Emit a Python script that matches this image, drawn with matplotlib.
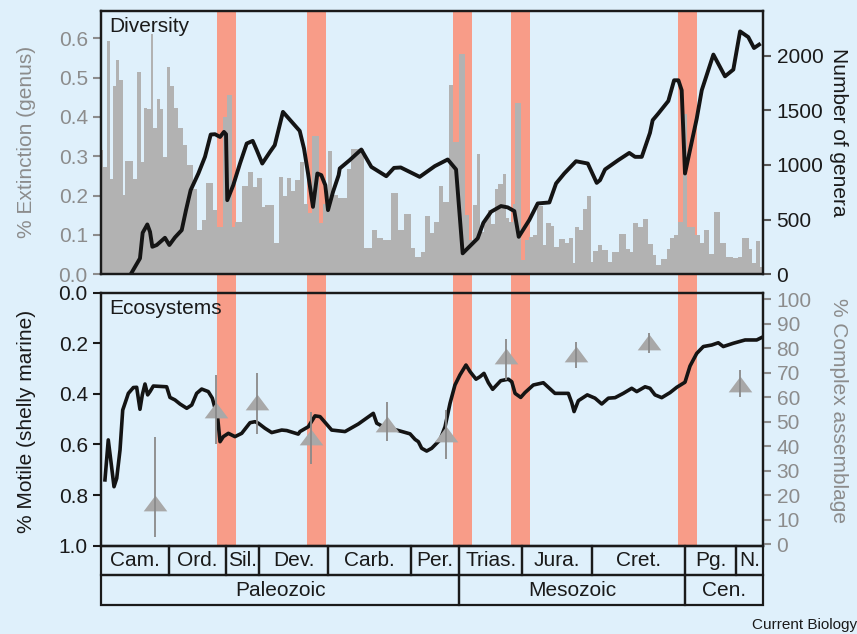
import matplotlib.pyplot as plt
from matplotlib.patches import Rectangle

plt.rcParams['font.family'] = ['Liberation Sans', 'DejaVu Sans']

# geological time scale (Ma)
period_names = ['Cam.', 'Ord.', 'Sil.', 'Dev.', 'Carb.', 'Per.', 'Trias.', 'Jura.', 'Cret.', 'Pg.', 'N.']
period_bounds = [541, 485.5, 439, 412, 355.5, 288, 248.5, 197, 140, 64, 22.3, 0]
era_names = ['Paleozoic', 'Mesozoic', 'Cen.']
era_bounds = [541, 248.5, 64, 0]

# big five mass extinctions (shaded bands)
mass_ext_start = [446.0, 372.5, 253.5, 206.0, 69.7]
mass_ext_end = [431.0, 357.2, 238.2, 190.6, 54.4]

# genus extinction rate per interval (interval starts, Ma; last one ends at 0)
ext_start = [541.0, 539.2, 536.4, 533.7, 531.5, 528.8, 526.1, 523.3, 521.4, 514.6,
             511.4, 508.6, 505.9, 503.2, 500.4, 498.3, 495.0, 492.8, 490.6, 487.4,
             484.7, 481.4, 477.9, 474.3, 470.5, 466.1, 462.9, 458.8, 455.3, 449.3,
             446.0, 441.1, 438.4, 434.3, 431.6, 426.1, 420.7, 416.6, 413.8, 409.8,
             407.1, 399.7, 395.9, 392.4, 388.9, 385.6, 382.3, 378.7, 375.2, 371.9,
             368.7, 363.2, 359.7, 355.6, 352.1, 347.4, 340.1, 336.6, 326.2, 319.7,
             315.3, 310.7, 303.9, 298.4, 293.5, 288.0, 284.3, 279.9, 276.6, 272.5,
             269.0, 265.2, 261.4, 256.5, 253.2, 248.8, 243.4, 240.2, 237.4, 234.1,
             231.2, 228.4, 225.1, 222.4, 219.2, 216.5, 212.9, 210.2, 207.5, 204.7,
             202.6, 197.9, 194.4, 191.6, 188.4, 184.9, 180.2, 177.5, 173.4, 170.7,
             167.1, 161.7, 158.5, 155.2, 153.6, 150.8, 147.5, 144.3, 141.0, 138.9,
             135.3, 132.0, 126.6, 123.4, 117.6, 112.2, 108.9, 106.7, 102.1, 98.0,
             93.9, 89.9, 87.7, 83.6, 78.9, 76.2, 72.9, 69.9, 65.8, 62.1,
             55.8, 51.7, 48.4, 44.1, 40.3, 35.4, 30.5, 24.5, 20.4, 17.2,
             11.7, 9.0, 6.2, 2.7]
ext_rate = [0.316, 0.274, 0.594, 0.242, 0.479, 0.545, 0.494, 0.202, 0.288, 0.242,
            0.513, 0.286, 0.424, 0.419, 0.610, 0.371, 0.445, 0.419, 0.299, 0.526,
            0.479, 0.422, 0.371, 0.329, 0.278, 0.216, 0.113, 0.138, 0.231, 0.163,
            0.121, 0.399, 0.456, 0.121, 0.134, 0.225, 0.261, 0.223, 0.244, 0.170,
            0.176, 0.079, 0.248, 0.200, 0.246, 0.212, 0.240, 0.285, 0.179, 0.155,
            0.352, 0.131, 0.180, 0.314, 0.202, 0.193, 0.267, 0.318, 0.066, 0.112,
            0.092, 0.087, 0.206, 0.113, 0.153, 0.066, 0.045, 0.056, 0.148, 0.104,
            0.132, 0.225, 0.185, 0.481, 0.337, 0.559, 0.151, 0.087, 0.176, 0.305,
            0.108, 0.138, 0.163, 0.127, 0.217, 0.230, 0.254, 0.142, 0.134, 0.180,
            0.435, 0.036, 0.087, 0.096, 0.100, 0.174, 0.075, 0.130, 0.123, 0.069,
            0.089, 0.079, 0.092, 0.028, 0.121, 0.113, 0.165, 0.200, 0.032, 0.060,
            0.074, 0.062, 0.032, 0.058, 0.103, 0.064, 0.058, 0.130, 0.121, 0.140,
            0.077, 0.049, 0.024, 0.038, 0.064, 0.093, 0.100, 0.134, 0.408, 0.120,
            0.100, 0.079, 0.113, 0.052, 0.159, 0.079, 0.045, 0.041, 0.045, 0.092,
            0.064, 0.030, 0.085, 0.019]

# number of genera (diversity curve)
div_age = [516.8, 509.2, 507.0, 503.2, 501.0, 499.1, 495.5, 488.8, 485.2, 480.6,
           475.1, 471.6, 467.8, 461.5, 456.1, 451.4, 447.9, 443.8, 440.6, 438.9,
           437.9, 433.0, 427.5, 422.0, 417.1, 413.8, 409.3, 403.0, 399.1, 392.4,
           378.7, 375.2, 371.9, 367.9, 364.3, 361.1, 357.8, 355.6, 351.5, 346.9,
           346.0, 337.9, 328.4, 320.2, 308.0, 301.7, 296.2, 280.7, 268.4, 257.8,
           251.0, 245.6, 233.3, 228.7, 222.4, 214.3, 208.8, 203.4, 199.8, 191.2,
           184.3, 174.8, 169.3, 162.6, 153.0, 143.4, 136.1, 133.4, 129.3, 118.5,
           109.5, 104.8, 99.3, 92.6, 90.4, 85.8, 77.6, 72.9, 69.4, 66.7,
           64.0, 54.4, 50.3, 40.8, 31.3, 24.5, 19.0, 12.3, 7.6, 3.5]
div_genera = [0, 146, 380, 456, 389, 252, 268, 334, 268, 338,
              404, 587, 770, 922, 1074, 1278, 1281, 1256, 1302, 1281,
              678, 815, 1013, 1196, 1220, 1135, 1013, 1119, 1181, 1485,
              1311, 1150, 922, 617, 922, 907, 815, 587, 754, 907,
              968, 1044, 1141, 982, 897, 973, 977, 891, 989, 1050,
              959, 192, 329, 471, 572, 624, 612, 578, 343, 496,
              648, 657, 831, 922, 1034, 1013, 836, 861, 959, 1044,
              1110, 1074, 1074, 1293, 1409, 1470, 1585, 1774, 1774, 1683,
              922, 1424, 1683, 2009, 1810, 1872, 2221, 2169, 2069, 2100]

# proportion of motile genera (shelly marine)
mot_age = [537.8, 535.1, 532.9, 530.4, 528.2, 525.5, 523.3, 520.0, 518.7, 514.6,
           511.9, 509.2, 507.3, 505.1, 502.9, 501.0, 498.3, 487.4, 484.7, 480.6,
           476.5, 471.0, 466.9, 462.9, 458.8, 453.4, 450.1, 447.9, 445.7, 443.8,
           441.1, 437.0, 431.6, 426.1, 419.3, 415.2, 412.5, 407.1, 401.6, 393.4,
           389.3, 379.9, 378.5, 371.7, 366.2, 362.1, 352.6, 341.7, 330.8, 318.6,
           315.8, 310.4, 299.5, 288.6, 284.5, 281.8, 279.1, 275.0, 270.9, 266.8,
           264.1, 260.0, 255.9, 251.9, 247.8, 242.9, 239.6, 234.7, 231.4, 228.2,
           224.6, 221.1, 217.8, 214.5, 208.3, 205.5, 202.8, 198.2, 194.7, 187.9,
           179.7, 170.2, 159.3, 156.5, 154.6, 151.1, 143.8, 137.5, 132.0, 126.6,
           121.1, 114.4, 107.5, 103.4, 96.6, 92.6, 88.5, 83.0, 76.2, 70.7,
           64.0, 59.9, 54.4, 49.0, 42.2, 36.8, 32.7, 24.5, 14.9, 5.4, 0.0]
mot_frac = [0.740, 0.582, 0.668, 0.767, 0.734, 0.622, 0.464, 0.417, 0.398, 0.375,
            0.374, 0.461, 0.404, 0.361, 0.404, 0.391, 0.369, 0.372, 0.414, 0.424,
            0.440, 0.457, 0.444, 0.398, 0.381, 0.391, 0.417, 0.457, 0.496, 0.589,
            0.569, 0.556, 0.569, 0.556, 0.514, 0.510, 0.516, 0.536, 0.553, 0.543,
            0.545, 0.559, 0.549, 0.530, 0.487, 0.490, 0.543, 0.549, 0.519, 0.477,
            0.516, 0.530, 0.543, 0.558, 0.580, 0.589, 0.615, 0.626, 0.615, 0.595,
            0.582, 0.530, 0.437, 0.365, 0.325, 0.286, 0.312, 0.342, 0.332, 0.319,
            0.356, 0.382, 0.365, 0.348, 0.342, 0.352, 0.398, 0.414, 0.395, 0.365,
            0.356, 0.398, 0.398, 0.435, 0.470, 0.427, 0.404, 0.417, 0.440, 0.417,
            0.415, 0.398, 0.378, 0.391, 0.372, 0.378, 0.404, 0.415, 0.395, 0.374,
            0.354, 0.290, 0.240, 0.213, 0.207, 0.198, 0.213, 0.200, 0.187, 0.187, 0.174]

# complex assemblages (%), with ranges
cx_age = [496.9, 447.3, 413.4, 369.2, 307.2, 259.4, 210.4, 153.0, 93.4, 19.0]
cx_pct = [17, 55, 58, 44, 49, 45, 77, 77.5, 82.7, 65.6]
cx_low = [3, 41, 45, 33, 42, 35, 67, 72, 78, 60]
cx_high = [44, 69, 70, 54, 58, 55, 84, 82.5, 86.4, 71]

BG = '#dff0fb'
RED = '#f89c88'
BAR = '#b2b2b2'
GREY_TXT = '#8c8c8c'
INK = '#1a1a1a'
FS = 15

fig = plt.figure(figsize=(8.57, 6.34), dpi=100, facecolor=BG)

L, W = 0.1179, 0.7728

# background axis carrying the extinction bands through both panels
bg = fig.add_axes([L, 0.1393, W, 0.8438])
bg.set_xlim(541, 0)
bg.set_ylim(0, 1)
bg.axis('off')
for s, e in zip(mass_ext_start, mass_ext_end):
    bg.axvspan(s, e, color=RED, lw=0)

# ---- top panel: extinction + diversity
ax1 = fig.add_axes([L, 0.5673, W, 0.4158])
ax1.patch.set_alpha(0)
widths = [(ext_start[i + 1] if i + 1 < len(ext_start) else 0) - ext_start[i]
          for i in range(len(ext_start))]
ax1.bar(ext_start, ext_rate, width=widths, align='edge', color=BAR, lw=0)
ax1.set_xlim(541, 0)
ax1.set_ylim(0, 0.67)
ax1.set_yticks([0, 0.1, 0.2, 0.3, 0.4, 0.5, 0.6])
ax1.set_yticklabels(['0.0', '0.1', '0.2', '0.3', '0.4', '0.5', '0.6'])
ax1.set_xticks([])
ax1.tick_params(axis='y', direction='out', length=6, width=1.5, colors=GREY_TXT, labelsize=FS)
ax1.text(0.012, 0.975, 'Diversity', transform=ax1.transAxes, fontsize=FS, va='top', color=INK)

ax1r = ax1.twinx()
ax1r.plot(div_age, div_genera, color='#141414', lw=2.8, solid_joinstyle='round')
ax1r.set_ylim(0, 2410)
ax1r.set_yticks([0, 500, 1000, 1500, 2000])
ax1r.tick_params(axis='y', direction='out', length=6, width=1.5, colors=INK, labelsize=FS)
ax1r.tick_params(axis='y', color='#555555')
ax1r.set_xlim(541, 0)

# ---- bottom panel: motile fraction + complex assemblages
ax2 = fig.add_axes([L, 0.1393, W, 0.3991])
ax2.patch.set_alpha(0)
ax2.plot(mot_age, mot_frac, color='#141414', lw=2.6, solid_joinstyle='round')
ax2.set_xlim(541, 0)
ax2.set_ylim(1.0, 0.0)
ax2.set_yticks([0, 0.2, 0.4, 0.6, 0.8, 1.0])
ax2.set_yticklabels(['0.0', '0.2', '0.4', '0.6', '0.8', '1.0'])
ax2.set_xticks([])
ax2.tick_params(axis='y', direction='out', length=6, width=1.5, colors=INK, labelsize=FS)
ax2.text(0.012, 0.975, 'Ecosystems', transform=ax2.transAxes, fontsize=FS, va='top', color=INK)

ax2r = ax2.twinx()
tri = [(-1.5, -1), (1.5, -1), (0, 1), (-1.5, -1)]
ax2r.scatter(cx_age, cx_pct, marker=tri, s=17 ** 2, color='#a8a8a8', lw=0, zorder=3)
ax2r.vlines(cx_age, cx_low, cx_high, color='#8a8a8a', lw=1.3, zorder=4)
ax2r.set_ylim(-0.5, 102.7)
ax2r.set_yticks(range(0, 101, 10))
ax2r.tick_params(axis='y', direction='out', length=6, width=1.5, colors=GREY_TXT, labelsize=FS)
ax2r.set_xlim(541, 0)

for a in (ax1, ax1r, ax2, ax2r):
    for sp in a.spines.values():
        sp.set_linewidth(1.6)
        sp.set_color(INK)

# axis titles
fig.text(0.031, 0.776, '% Extinction (genus)', rotation=90, ha='center', va='center',
         fontsize=FS, color=GREY_TXT)
fig.text(0.978, 0.792, 'Number of genera', rotation=270, ha='center', va='center',
         fontsize=FS, color=INK)
fig.text(0.031, 0.335, '% Motile (shelly marine)', rotation=90, ha='center', va='center',
         fontsize=FS, color=INK)
fig.text(0.978, 0.353, '% Complex assemblage', rotation=270, ha='center', va='center',
         fontsize=FS, color=GREY_TXT)

# ---- time scale boxes
tb = fig.add_axes([L, 0.0453, W, 0.094])
tb.set_xlim(541, 0)
tb.set_ylim(0, 2)
tb.axis('off')
for i, name in enumerate(period_names):
    a0, a1 = period_bounds[i], period_bounds[i + 1]
    tb.add_patch(Rectangle((a1, 1), a0 - a1, 1, fill=False, ec=INK, lw=1.6, clip_on=False))
    tb.text((a0 + a1) / 2, 1.5, name, ha='center', va='center', fontsize=FS, color=INK)
for i, name in enumerate(era_names):
    a0, a1 = era_bounds[i], era_bounds[i + 1]
    tb.add_patch(Rectangle((a1, 0), a0 - a1, 1, fill=False, ec=INK, lw=1.6, clip_on=False))
    tb.text((a0 + a1) / 2, 0.5, name, ha='center', va='center', fontsize=FS, color=INK)

fig.text(0.878, 0.014, 'Current Biology', fontsize=11, color=INK, ha='left', va='center')

fig.savefig('out.png', dpi=100, facecolor=BG)
